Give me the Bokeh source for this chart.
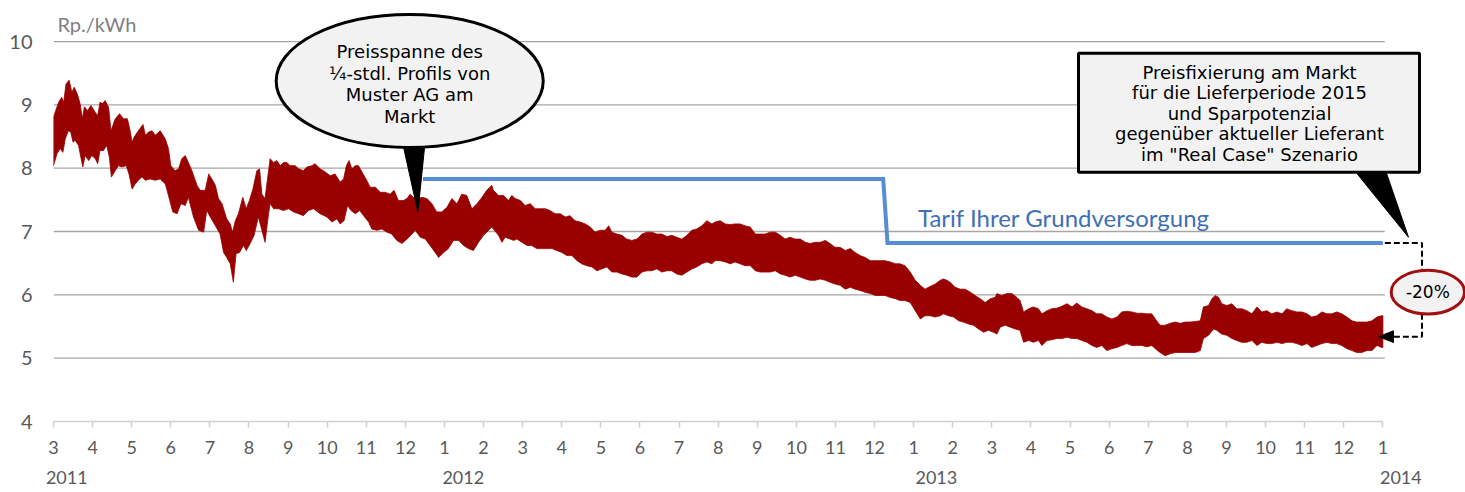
from bokeh.plotting import figure
from bokeh.models import Range1d, FixedTicker, Label, LinearAxis
from bokeh.embed import file_html
from bokeh.resources import INLINE

# ---------------- data ----------------
# x = month index (0 = March 2011, 34 = January 2014), y = Rp./kWh
month_labels = ["3", "4", "5", "6", "7", "8", "9", "10", "11", "12",
                "1", "2", "3", "4", "5", "6", "7", "8", "9", "10", "11", "12",
                "1", "2", "3", "4", "5", "6", "7", "8", "9", "10", "11", "12",
                "1"]
year_labels = ["2011", "2012", "2013", "2014"]
y_ticks = [4, 5, 6, 7, 8, 9, 10]

# Tarif Ihrer Grundversorgung
tariff_month = [9.45, 21.22, 21.33, 34.0]
tariff_price = [7.83, 7.83, 6.82, 6.82]

# market price range of the 1/4-hour profile (upper / lower envelope)
band_upper = [
    (0.00, 8.81), (0.13, 9.04), (0.21, 9.12), (0.26, 9.04), (0.32, 9.33), (0.40, 9.39), (0.47, 9.20),
    (0.53, 9.28), (0.61, 9.17), (0.68, 9.02), (0.74, 8.78), (0.79, 8.97), (0.87, 8.91), (0.96, 8.99),
    (1.07, 8.88), (1.13, 8.83), (1.19, 9.04), (1.26, 9.02), (1.32, 9.07), (1.41, 8.96), (1.47, 8.59),
    (1.58, 8.78), (1.69, 8.86), (1.79, 8.78), (1.89, 8.78), (1.96, 8.59), (2.01, 8.41), (2.06, 8.49),
    (2.17, 8.59), (2.29, 8.69), (2.35, 8.52), (2.43, 8.57), (2.52, 8.59), (2.60, 8.52), (2.73, 8.59),
    (2.86, 8.46), (2.94, 8.31), (3.00, 8.04), (3.11, 7.96), (3.20, 7.99), (3.28, 8.15), (3.37, 8.20),
    (3.45, 8.09), (3.54, 7.96), (3.67, 7.73), (3.75, 7.65), (3.88, 7.65), (3.97, 7.91), (4.05, 7.83),
    (4.14, 7.73), (4.22, 7.52), (4.31, 7.44), (4.43, 7.20), (4.52, 7.12), (4.58, 6.99), (4.65, 7.17),
    (4.73, 7.28), (4.84, 7.54), (4.93, 7.36), (5.01, 7.49), (5.10, 7.67), (5.20, 7.96), (5.27, 7.99),
    (5.33, 7.59), (5.41, 7.52), (5.50, 7.96),
    (5.54, 8.15), (5.63, 8.09), (5.71, 8.12), (5.80, 8.04), (5.88, 8.09), (5.97, 8.09), (6.05, 8.04),
    (6.18, 8.04), (6.27, 7.99), (6.39, 7.96), (6.48, 8.02), (6.61, 8.04), (6.69, 8.07), (6.82, 7.99),
    (6.95, 7.94), (7.08, 7.88), (7.20, 7.91), (7.33, 7.78), (7.42, 7.83), (7.49, 8.04), (7.56, 8.12),
    (7.63, 7.99), (7.72, 8.04), (7.80, 8.04), (7.89, 7.94), (8.01, 7.81), (8.10, 7.70), (8.23, 7.70),
    (8.36, 7.62), (8.48, 7.62), (8.61, 7.59), (8.71, 7.65), (8.82, 7.49), (8.95, 7.49), (9.04, 7.52),
    (9.12, 7.59), (9.27, 7.50), (9.42, 7.54), (9.55, 7.52), (9.68, 7.44), (9.80, 7.31), (9.93, 7.31),
    (10.06, 7.38), (10.19, 7.52), (10.32, 7.44), (10.44, 7.59), (10.57, 7.57), (10.70, 7.36),
    (10.83, 7.44), (10.96, 7.54), (11.08, 7.65), (11.21, 7.73),
    (11.25, 7.65), (11.38, 7.57), (11.51, 7.57), (11.64, 7.49), (11.72, 7.57), (11.81, 7.52),
    (11.94, 7.49), (12.06, 7.41), (12.19, 7.44), (12.32, 7.36), (12.45, 7.36), (12.58, 7.36),
    (12.70, 7.33), (12.83, 7.28), (12.96, 7.28), (13.09, 7.23), (13.21, 7.25), (13.34, 7.17),
    (13.47, 7.15), (13.60, 7.12), (13.73, 7.07), (13.85, 6.99), (13.98, 7.02), (14.11, 7.02),
    (14.20, 7.09), (14.28, 6.99), (14.41, 6.96), (14.54, 6.94), (14.66, 6.88), (14.79, 6.86),
    (14.92, 6.88), (15.05, 6.96), (15.18, 6.99), (15.30, 6.99), (15.43, 6.96), (15.56, 6.96),
    (15.69, 6.92), (15.81, 6.94), (15.94, 6.91), (16.07, 6.88), (16.20, 6.94), (16.33, 7.02),
    (16.45, 7.04), (16.58, 7.09), (16.71, 7.17), (16.84, 7.12),
    (16.92, 7.15), (17.05, 7.17), (17.18, 7.12), (17.31, 7.11), (17.43, 7.12), (17.56, 7.12),
    (17.69, 7.09), (17.82, 7.07), (17.95, 6.96), (18.07, 6.96), (18.20, 6.96), (18.33, 6.99),
    (18.46, 6.99), (18.59, 6.94), (18.71, 6.88), (18.84, 6.91), (18.97, 6.88), (19.10, 6.88),
    (19.23, 6.83), (19.35, 6.81), (19.48, 6.83), (19.61, 6.83), (19.74, 6.86), (19.86, 6.81),
    (19.99, 6.75), (20.12, 6.75), (20.25, 6.70), (20.38, 6.73), (20.50, 6.67), (20.63, 6.62),
    (20.76, 6.59), (20.89, 6.54), (21.02, 6.54), (21.14, 6.54), (21.27, 6.54), (21.40, 6.52),
    (21.53, 6.49), (21.65, 6.49), (21.78, 6.46), (21.91, 6.36), (22.04, 6.23), (22.17, 6.15),
    (22.29, 6.09), (22.38, 6.12),
    (22.55, 6.17), (22.68, 6.23), (22.76, 6.25), (22.85, 6.23), (22.93, 6.20), (23.06, 6.12),
    (23.19, 6.09), (23.32, 6.09), (23.45, 6.04), (23.57, 5.99), (23.70, 5.94), (23.83, 5.88),
    (23.96, 5.94), (24.08, 5.96), (24.13, 6.02), (24.25, 5.99), (24.38, 6.02), (24.51, 6.02),
    (24.64, 5.96), (24.72, 5.91), (24.81, 5.73), (24.94, 5.78), (25.06, 5.81), (25.19, 5.78),
    (25.28, 5.70), (25.41, 5.75), (25.53, 5.78), (25.66, 5.79), (25.79, 5.82), (25.92, 5.86),
    (26.05, 5.81), (26.17, 5.87), (26.30, 5.81), (26.43, 5.78), (26.56, 5.75), (26.68, 5.70),
    (26.81, 5.70), (26.94, 5.65), (27.07, 5.62), (27.20, 5.65), (27.32, 5.73), (27.45, 5.74),
    (27.58, 5.73), (27.71, 5.71), (27.84, 5.71), (27.96, 5.70), (28.09, 5.70),
    (28.18, 5.62), (28.30, 5.52), (28.43, 5.52), (28.56, 5.55), (28.69, 5.57), (28.82, 5.55),
    (28.94, 5.57), (29.07, 5.57), (29.20, 5.58), (29.33, 5.59), (29.41, 5.81), (29.54, 5.83),
    (29.63, 5.94), (29.71, 5.99), (29.80, 5.96), (29.88, 5.86), (30.01, 5.83), (30.14, 5.86),
    (30.26, 5.78), (30.39, 5.78), (30.52, 5.75), (30.65, 5.70), (30.78, 5.81), (30.90, 5.73),
    (31.03, 5.75), (31.16, 5.70), (31.29, 5.73), (31.42, 5.70), (31.54, 5.78), (31.67, 5.75),
    (31.80, 5.73), (31.93, 5.73), (32.06, 5.70), (32.18, 5.65), (32.31, 5.67), (32.44, 5.73),
    (32.57, 5.70), (32.69, 5.70), (32.82, 5.73), (32.95, 5.70), (33.08, 5.65), (33.21, 5.59),
    (33.33, 5.57), (33.46, 5.57), (33.59, 5.57), (33.72, 5.59), (33.85, 5.65), (33.97, 5.67),
    (34.00, 5.67),
]
band_lower = [
    (0.00, 8.04), (0.09, 8.23), (0.17, 8.31), (0.24, 8.25), (0.30, 8.46), (0.38, 8.59), (0.44, 8.57),
    (0.50, 8.41), (0.55, 8.44), (0.64, 8.36), (0.70, 8.17), (0.75, 8.02), (0.81, 8.20), (0.90, 8.12),
    (0.98, 8.20), (1.07, 8.15), (1.13, 8.07), (1.19, 8.28), (1.28, 8.28), (1.36, 8.36), (1.43, 8.17),
    (1.48, 7.86), (1.58, 7.96), (1.66, 8.04), (1.75, 8.02), (1.86, 8.04), (1.93, 7.91), (2.01, 7.67),
    (2.09, 7.75), (2.17, 7.81), (2.26, 7.86), (2.35, 7.81), (2.47, 7.83), (2.60, 7.81), (2.73, 7.83),
    (2.86, 7.75), (2.94, 7.57), (3.05, 7.31), (3.16, 7.28), (3.26, 7.44), (3.37, 7.41), (3.45, 7.54),
    (3.58, 7.23), (3.71, 7.02), (3.84, 6.99), (3.92, 7.33), (4.01, 7.23), (4.14, 7.09), (4.26, 6.96),
    (4.35, 6.67), (4.43, 6.59), (4.52, 6.49), (4.60, 6.20), (4.67, 6.65), (4.76, 6.67), (4.86, 6.78),
    (4.93, 6.70), (5.03, 6.81), (5.13, 6.94), (5.24, 7.23), (5.33, 7.02), (5.41, 6.83), (5.50, 7.28),
    (5.54, 7.44), (5.63, 7.36), (5.76, 7.36), (5.88, 7.33), (6.01, 7.36), (6.14, 7.31), (6.27, 7.28),
    (6.39, 7.25), (6.52, 7.33), (6.65, 7.36), (6.82, 7.28), (6.99, 7.23), (7.12, 7.15), (7.25, 7.20),
    (7.33, 7.12), (7.43, 7.17), (7.52, 7.41), (7.61, 7.33), (7.72, 7.28), (7.83, 7.33), (7.93, 7.25),
    (8.06, 7.15), (8.14, 7.04), (8.27, 7.02), (8.40, 7.04), (8.53, 6.99), (8.65, 6.96), (8.78, 6.86),
    (8.91, 6.81), (9.04, 6.88), (9.17, 6.96), (9.25, 7.02), (9.38, 6.91), (9.51, 6.88), (9.63, 6.78),
    (9.76, 6.67), (9.85, 6.59), (9.98, 6.67), (10.10, 6.73), (10.23, 6.86), (10.36, 6.86),
    (10.49, 6.78), (10.61, 6.73), (10.74, 6.70), (10.87, 6.83), (11.00, 6.94), (11.13, 7.02),
    (11.21, 7.07),
    (11.25, 7.04), (11.38, 6.94), (11.47, 6.83), (11.55, 6.91), (11.68, 6.88), (11.77, 6.86),
    (11.85, 6.88), (11.98, 6.83), (12.11, 6.78), (12.23, 6.78), (12.36, 6.73), (12.49, 6.73),
    (12.62, 6.73), (12.75, 6.73), (12.87, 6.70), (13.00, 6.67), (13.13, 6.62), (13.26, 6.62),
    (13.39, 6.54), (13.51, 6.49), (13.64, 6.46), (13.77, 6.44), (13.90, 6.38), (14.02, 6.41),
    (14.15, 6.44), (14.28, 6.36), (14.41, 6.36), (14.54, 6.33), (14.66, 6.31), (14.79, 6.28),
    (14.92, 6.28), (15.05, 6.36), (15.18, 6.38), (15.30, 6.38), (15.43, 6.41), (15.56, 6.36),
    (15.69, 6.38), (15.81, 6.38), (15.94, 6.33), (16.07, 6.31), (16.20, 6.36), (16.33, 6.41),
    (16.45, 6.44), (16.58, 6.49), (16.71, 6.52), (16.84, 6.49),
    (16.92, 6.54), (17.05, 6.54), (17.18, 6.52), (17.31, 6.49), (17.43, 6.52), (17.56, 6.49),
    (17.69, 6.46), (17.82, 6.46), (17.95, 6.38), (18.07, 6.36), (18.20, 6.36), (18.33, 6.36),
    (18.46, 6.38), (18.59, 6.33), (18.71, 6.31), (18.84, 6.28), (18.97, 6.31), (19.10, 6.28),
    (19.23, 6.25), (19.35, 6.23), (19.48, 6.23), (19.61, 6.25), (19.74, 6.23), (19.86, 6.20),
    (19.99, 6.17), (20.12, 6.15), (20.25, 6.09), (20.38, 6.12), (20.50, 6.09), (20.63, 6.07),
    (20.76, 6.04), (20.89, 6.02), (21.02, 5.99), (21.14, 5.99), (21.27, 5.99), (21.40, 5.96),
    (21.53, 5.94), (21.65, 5.91), (21.78, 5.91), (21.91, 5.88), (22.04, 5.75), (22.17, 5.62),
    (22.29, 5.67), (22.42, 5.67),
    (22.55, 5.65), (22.68, 5.67), (22.76, 5.70), (22.89, 5.67), (23.02, 5.65), (23.15, 5.59),
    (23.27, 5.57), (23.40, 5.54), (23.53, 5.52), (23.66, 5.46), (23.79, 5.41), (23.91, 5.44),
    (24.04, 5.41), (24.13, 5.38), (24.21, 5.49), (24.34, 5.52), (24.47, 5.49), (24.60, 5.46),
    (24.72, 5.44), (24.81, 5.25), (24.94, 5.28), (25.06, 5.25), (25.19, 5.28), (25.28, 5.20),
    (25.41, 5.28), (25.53, 5.29), (25.66, 5.31), (25.79, 5.31), (25.92, 5.33), (26.05, 5.31),
    (26.17, 5.31), (26.30, 5.28), (26.43, 5.25), (26.56, 5.20), (26.68, 5.17), (26.81, 5.20),
    (26.94, 5.12), (27.07, 5.15), (27.20, 5.17), (27.32, 5.20), (27.45, 5.23), (27.58, 5.20),
    (27.71, 5.20), (27.84, 5.20), (27.96, 5.18), (28.09, 5.20),
    (28.18, 5.15), (28.30, 5.09), (28.43, 5.04), (28.56, 5.07), (28.69, 5.09), (28.82, 5.09),
    (28.94, 5.09), (29.07, 5.09), (29.20, 5.09), (29.33, 5.12), (29.41, 5.31), (29.54, 5.36),
    (29.67, 5.46), (29.75, 5.44), (29.88, 5.38), (30.01, 5.36), (30.14, 5.31), (30.26, 5.28),
    (30.39, 5.25), (30.52, 5.25), (30.65, 5.28), (30.78, 5.20), (30.90, 5.25), (31.03, 5.23),
    (31.16, 5.23), (31.29, 5.25), (31.42, 5.23), (31.54, 5.25), (31.67, 5.25), (31.80, 5.23),
    (31.93, 5.20), (32.06, 5.23), (32.18, 5.17), (32.31, 5.20), (32.44, 5.23), (32.57, 5.25),
    (32.69, 5.23), (32.82, 5.23), (32.95, 5.20), (33.08, 5.15), (33.21, 5.12), (33.33, 5.09),
    (33.46, 5.09), (33.59, 5.12), (33.72, 5.12), (33.85, 5.20), (33.97, 5.17), (34.00, 5.17),
]

# values used by the savings bracket
tariff_end = 6.82
market_end = 5.34
saving_text = "-20%"

ellipse_lines = ["Preisspanne des", "\u00bc-stdl. Profils von", "Muster AG am", "Markt"]
box_lines = ["Preisfixierung am Markt", "f\u00fcr die Lieferperiode 2015", "und Sparpotenzial",
             "gegen\u00fcber aktueller Lieferant", "im \"Real Case\" Szenario"]

# ---------------- styling ----------------
AXIS_FONT = "Lato"
CALLOUT_FONT = "DejaVu Sans"
BAND_COLOR = "#990000"
BLUE = "#558ED5"
GRID = "#a6a6a6"
CALLOUT_FILL = "#f2f2f2"

p = figure(width=1465, height=492,
           x_range=Range1d(0, 36.113), y_range=Range1d(4, 10.648),
           output_backend="svg", toolbar_location=None,
           min_border_left=53, min_border_right=0, min_border_top=0, min_border_bottom=71)
p.outline_line_color = None
p.background_fill_color = "white"
p.border_fill_color = "white"
p.xgrid.visible = False
p.ygrid.visible = False

# month axis
p.xaxis.ticker = FixedTicker(ticks=list(range(len(month_labels))))
p.xaxis.major_label_overrides = {i: lab for i, lab in enumerate(month_labels)}
p.xaxis.bounds = (0, len(month_labels) - 1)
p.xaxis.axis_line_color = "#d0d0d0"
p.xaxis.axis_line_width = 1.5
p.xaxis.major_tick_line_color = "#d0d0d0"
p.xaxis.major_tick_line_width = 1.5
p.xaxis.major_tick_in = 0
p.xaxis.major_tick_out = 6
p.xaxis.minor_tick_line_color = None
p.xaxis.major_label_standoff = 13
p.xaxis.major_label_text_font = AXIS_FONT
p.xaxis.major_label_text_font_size = "18px"
p.xaxis.major_label_text_color = "#595959"

# year axis
year_pos = [0.34, 10.48, 22.58, 34.46]
year_axis = LinearAxis(ticker=FixedTicker(ticks=year_pos),
                       major_label_overrides={x: y for x, y in zip(year_pos, year_labels)})
year_axis.axis_line_color = None
year_axis.major_tick_line_color = None
year_axis.minor_tick_line_color = None
year_axis.major_tick_in = 0
year_axis.major_tick_out = 0
year_axis.major_label_standoff = 14
year_axis.major_label_text_font = AXIS_FONT
year_axis.major_label_text_font_size = "18px"
year_axis.major_label_text_color = "#595959"
p.add_layout(year_axis, "below")

# y axis
p.yaxis.ticker = FixedTicker(ticks=y_ticks)
p.yaxis.axis_line_color = None
p.yaxis.major_tick_line_color = None
p.yaxis.major_tick_in = 0
p.yaxis.major_tick_out = 0
p.yaxis.minor_tick_line_color = None
p.yaxis.major_label_standoff = 21
p.yaxis.major_label_text_font = AXIS_FONT
p.yaxis.major_label_text_font_size = "20px"
p.yaxis.major_label_text_color = "#595959"

# grid lines (only across the data period)
grid_y = y_ticks[1:]
p.segment(x0=[0] * len(grid_y), x1=[34.05] * len(grid_y), y0=grid_y, y1=grid_y,
          line_color=GRID, line_width=1.3)

# price band
band_x = [m for m, _ in band_upper] + [m for m, _ in reversed(band_lower)]
band_y = [v for _, v in band_upper] + [v for _, v in reversed(band_lower)]
p.patch(band_x, band_y, fill_color=BAND_COLOR, line_color=BAND_COLOR, line_width=0.8)

# tariff line
p.line(tariff_month, tariff_price, line_color=BLUE, line_width=4, line_join="miter")

# savings bracket
p.line([34.05, 35.0, 35.0, 34.26], [tariff_end, tariff_end, market_end, market_end],
       line_color="black", line_width=2, line_dash="6 3")
p.patch([33.89, 34.27, 34.27], [market_end, market_end + 0.092, market_end - 0.092],
        fill_color="black", line_color="black")

# callout: ellipse with pointer
p.patch([8.91, 9.51, 9.32], [8.45, 8.45, 7.305], fill_color="black", line_color="black")
p.ellipse(x=[9.11], y=[9.377], width=[6.83], height=[2.10],
          fill_color=CALLOUT_FILL, line_color="black", line_width=3)

# callout: rectangle with pointer
p.patch([33.16, 34.02, 34.655], [8.05, 8.05, 6.91], fill_color="black", line_color="black")
p.quad(left=[26.215], right=[34.936], top=[9.816], bottom=[7.937],
       fill_color=CALLOUT_FILL, line_color="black", line_width=3)

# -20% ellipse
p.ellipse(x=[35.15], y=[6.042], width=[1.875], height=[0.69],
          fill_color=CALLOUT_FILL, line_color="#a01010", line_width=3)

# ---------------- texts ----------------
p.add_layout(Label(x=0.1, y=10.277, text="Rp./kWh", text_align="left", text_baseline="middle",
                   text_font=AXIS_FONT, text_font_size="20px", text_color="#7f7f7f"))

p.add_layout(Label(x=22.11, y=7.22, text="Tarif Ihrer Grundversorgung", text_align="left",
                   text_baseline="middle", text_font=AXIS_FONT, text_font_size="24px",
                   text_color="#3f6fb6"))

for i, line in enumerate(ellipse_lines):
    p.add_layout(Label(x=9.11, y=9.838 - i * 0.34, text=line, text_align="center",
                       text_baseline="middle", text_font=CALLOUT_FONT, text_font_size="18px",
                       text_color="black"))

for i, line in enumerate(box_lines):
    p.add_layout(Label(x=30.59, y=9.51 - i * 0.322, text=line, text_align="center",
                       text_baseline="middle", text_font=CALLOUT_FONT, text_font_size="18px",
                       text_color="black"))

p.add_layout(Label(x=35.15, y=6.042, text=saving_text, text_align="center", text_baseline="middle",
                   text_font=CALLOUT_FONT, text_font_size="17px", text_color="black"))

open("out.html", "w").write(file_html(p, INLINE))
